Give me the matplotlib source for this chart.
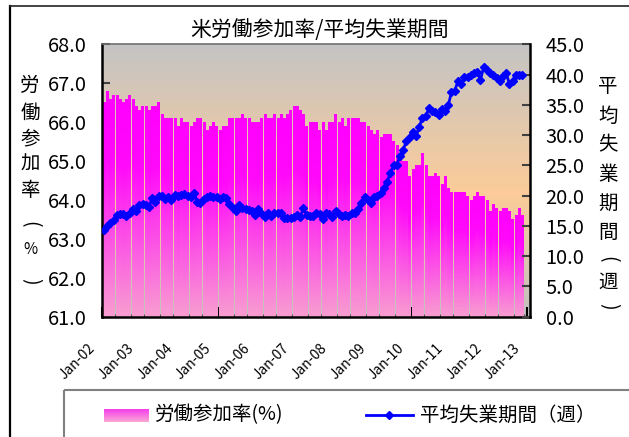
import numpy as np
import pandas as pd
import matplotlib
matplotlib.use("Agg")
import matplotlib.pyplot as plt
from matplotlib.patches import Rectangle
from matplotlib.lines import Line2D
from matplotlib.ticker import FormatStrFormatter
import matplotlib.transforms as mtransforms

plt.rcParams['font.family'] = ['Noto Sans CJK JP', 'DejaVu Sans']

# ---------------- data ----------------
categories = [d.strftime('%b-%y') for d in pd.date_range('2002-01-01', '2013-01-01', freq='MS')]
tick_labels = ['Jan-02', 'Jan-03', 'Jan-04', 'Jan-05', 'Jan-06', 'Jan-07',
               'Jan-08', 'Jan-09', 'Jan-10', 'Jan-11', 'Jan-12', 'Jan-13']

# 労働参加率 (%) Jan-02 .. Nov-12
participation = [
    66.5, 66.8, 66.6, 66.7, 66.7, 66.6, 66.5, 66.6, 66.7, 66.6, 66.4, 66.3,
    66.4, 66.4, 66.3, 66.4, 66.4, 66.5, 66.2, 66.1, 66.1, 66.1, 66.1, 65.9,
    66.1, 66.0, 66.0, 65.9, 66.0, 66.1, 66.1, 66.0, 65.8, 65.9, 66.0, 65.9,
    65.8, 65.9, 65.9, 66.1, 66.1, 66.1, 66.1, 66.2, 66.1, 66.1, 66.0, 66.0,
    66.0, 66.1, 66.2, 66.1, 66.1, 66.2, 66.1, 66.2, 66.1, 66.2, 66.3, 66.4,
    66.4, 66.3, 66.2, 65.9, 66.0, 66.0, 66.0, 65.8, 66.0, 65.8, 66.0, 66.0,
    66.2, 66.0, 66.1, 65.9, 66.1, 66.1, 66.1, 66.1, 66.0, 66.0, 65.9, 65.8,
    65.7, 65.8, 65.6, 65.7, 65.7, 65.7, 65.5, 65.4, 65.1, 65.0, 65.0, 64.6,
    64.8, 64.9, 64.9, 65.2, 64.9, 64.6, 64.6, 64.7, 64.6, 64.4, 64.6, 64.3,
    64.2, 64.2, 64.2, 64.2, 64.2, 64.1, 64.0, 64.1, 64.2, 64.1, 64.1, 64.0,
    63.7, 63.9, 63.8, 63.7, 63.8, 63.8, 63.7, 63.5, 63.6, 63.8, 63.6,
]

# 平均失業期間 (週) Jan-02 .. Nov-12
duration = [
    14.4, 15.0, 15.5, 15.9, 16.8, 17.0, 16.9, 16.6, 17.2, 17.8, 17.5, 18.4,
    18.6, 18.5, 18.2, 19.6, 19.0, 20.0, 20.0, 19.4, 19.7, 19.2, 20.1, 20.0,
    20.1, 20.3, 19.9, 19.7, 20.5, 18.9, 18.8, 19.5, 19.8, 20.0, 19.7, 19.7,
    19.4, 19.7, 19.6, 18.6, 17.9, 17.4, 18.4, 17.9, 17.8, 17.7, 17.5, 16.8,
    17.8, 16.9, 16.5, 17.2, 16.6, 17.2, 17.2, 17.2, 16.3, 16.3, 16.3, 16.4,
    16.8, 16.5, 17.9, 16.8, 16.6, 16.7, 17.1, 17.0, 16.2, 17.1, 17.0, 16.5,
    17.5, 16.9, 16.6, 16.8, 16.6, 17.1, 17.2, 17.8, 18.8, 19.8, 19.2, 18.8,
    19.8, 20.0, 20.4, 21.3, 22.3, 23.7, 25.0, 25.1, 26.5, 27.6, 29.0, 29.7,
    30.5, 29.8, 31.4, 32.9, 33.2, 34.4, 33.9, 33.8, 33.4, 34.3, 34.0, 34.9,
    37.1, 37.3, 38.9, 38.4, 39.6, 39.6, 40.0, 40.3, 40.4, 39.1, 41.2, 40.7,
    40.2, 40.0, 39.5, 38.9, 39.7, 40.2, 38.5, 39.0, 39.9, 39.9, 39.9,
]

title = '米労働参加率/平均失業期間'
legend_bar = '労働参加率(%)'
legend_line = '平均失業期間（週）'
left_label = ['労', '働', '参', '加', '率', '(', '%', ')']
right_label = ['平', '均', '失', '業', '期', '間', '(', '週', ')']

# ---------------- figure ----------------
W, H = 629, 437
fig = plt.figure(figsize=(W / 100, H / 100), dpi=100)
fig.patch.set_facecolor('white')

L, R, T, B = 102.3, 530.3, 44.3, 316.7
ax = fig.add_axes([L / W, 1 - B / H, (R - L) / W, (B - T) / H])
ax.patch.set_visible(False)
ax2 = ax.twinx()

def vgrad(stops, n=256):
    pos = [s[0] for s in stops]
    cols = np.array([s[1] for s in stops], dtype=float) / 255.0
    tt = np.linspace(0, 1, n)
    out = np.empty((n, 1, 3))
    for k in range(3):
        out[:, 0, k] = np.interp(tt, pos, cols[:, k])
    return out

bg = vgrad([(0.0, (196, 196, 196)), (0.55, (253, 204, 153)), (1.0, (192, 192, 192))])
ax.imshow(bg, extent=[0, 1, 0, 1], transform=ax.transAxes, aspect='auto',
          zorder=0, interpolation='bilinear')

bar_grad = vgrad([(0.0, (255, 0, 255)), (0.3, (255, 10, 250)), (1.0, (248, 158, 208))])

x = np.arange(len(participation))
ymin, ymax = 61.0, 68.0
bars = ax.bar(x, participation, width=0.72, color='none', linewidth=0, zorder=2)
for b in bars:
    x0, w, h = b.get_x(), b.get_width(), b.get_height()
    ax.imshow(bar_grad, extent=[x0, x0 + w, ymin, h], aspect='auto',
              zorder=2, interpolation='bilinear')

ax.set_xlim(-0.5, len(categories) - 0.5)
ax.set_ylim(ymin, ymax)
ax.set_aspect('auto')
ax.set_yticks(np.arange(61, 68.01, 1.0))
ax.yaxis.set_major_formatter(FormatStrFormatter('%.1f'))

ax2.plot(x, duration, color='#0000FF', lw=2, marker='D', ms=4, zorder=3)
ax2.set_ylim(0, 45)
ax2.set_yticks(np.arange(0, 45.1, 5))
ax2.yaxis.set_major_formatter(FormatStrFormatter('%.1f'))

major_pos = [categories.index(lbl) - 0.5 for lbl in tick_labels]
ax.set_xticks(major_pos, tick_labels)
ax.set_xticks(np.arange(-0.5, len(categories), 1), minor=True)

ax.tick_params(axis='y', direction='in', length=6, width=1.5, color='#404040',
               labelsize=14.4, pad=11)
ax2.tick_params(axis='y', direction='in', length=6, width=1.5, color='#404040',
                labelsize=14.4, pad=11)
ax.tick_params(axis='x', which='major', direction='in', length=7, width=1.5,
               color='black', labelsize=10, pad=21)
ax.tick_params(axis='x', which='minor', direction='in', length=2, width=1,
               color='#555555')

for sp in ['left', 'bottom']:
    ax.spines[sp].set_linewidth(1.8)
    ax.spines[sp].set_color('black')
ax.spines['top'].set_color('#707070')
ax.spines['top'].set_linewidth(1.2)
ax.spines['right'].set_visible(False)
for sp in ['left', 'bottom', 'top']:
    ax2.spines[sp].set_visible(False)
ax2.spines['right'].set_linewidth(1.8)
ax2.spines['right'].set_color('black')

shift = mtransforms.ScaledTranslation(-9 / 100, 0, fig.dpi_scale_trans)
for lab in ax.get_xticklabels():
    lab.set_rotation(45)
    lab.set_ha('right')
    lab.set_va('center')
    lab.set_rotation_mode('anchor')
    lab.set_transform(lab.get_transform() + shift)

# ---------------- overlay (pixel coordinates) ----------------
ov = fig.add_axes([0, 0, 1, 1], zorder=10)
ov.axis('off')

ov.add_line(Line2D([10, 10], [5.7, H + 10], color='black', lw=1.6))
ov.add_line(Line2D([10, W + 10], [5.7, 5.7], color='#222222', lw=1.2))

ov.text(320, 30, title, ha='center', va='center', fontsize=15)

def stack(chars, xc, ys):
    for ch, yy in zip(chars, ys):
        if ch in '()':
            ov.text(xc, yy, ch, ha='center', va='center', fontsize=14, rotation=-90,
                    rotation_mode='anchor')
        elif ch == '%':
            ov.text(xc, yy, ch, ha='center', va='center', fontsize=11)
        else:
            ov.text(xc, yy, ch, ha='center', va='center', fontsize=14)

stack(left_label, 30, [85, 113, 139, 164, 191, 224, 250, 281])
stack(right_label, 608, [87, 116, 145, 174, 203, 232, 259, 282, 306])

ov.add_patch(Rectangle((64, 390), 700, 100, fill=False, edgecolor='#808080', lw=1.5))
leg_grad = vgrad([(0.0, (245, 60, 235)), (1.0, (250, 170, 212))])
ov.imshow(leg_grad, extent=[104, 149, 422, 409], aspect='auto', interpolation='bilinear')
ov.add_line(Line2D([366, 413], [415, 415], color='#0000FF', lw=2))
ov.add_line(Line2D([389], [415], color='#0000FF', marker='D', ms=4))
ov.text(155, 415, legend_bar, ha='left', va='center', fontsize=14)
ov.text(420, 415, legend_line, ha='left', va='center', fontsize=14)

ov.set_xlim(0, W)
ov.set_ylim(H, 0)
ov.set_aspect('auto')

fig.savefig('out.png', dpi=100)
